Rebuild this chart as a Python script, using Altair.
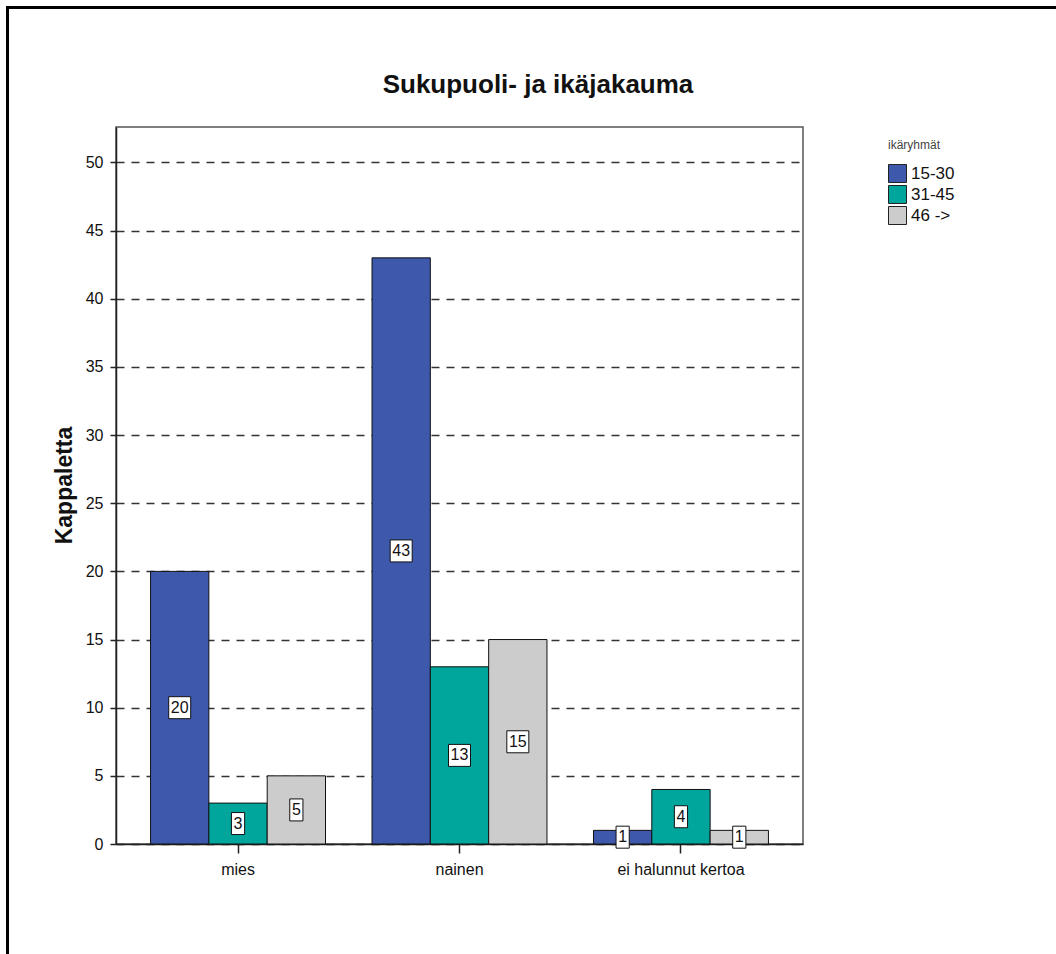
import altair as alt
import pandas as pd

# ---- data ----
categories = ["mies", "nainen", "ei halunnut kertoa"]
age_groups = ["15-30", "31-45", "46 ->"]
counts_15_30 = [20, 43, 1]
counts_31_45 = [3, 13, 4]
counts_46_plus = [5, 15, 1]
colors = ["#3E58AC", "#00A69C", "#CCCCCC"]
y_ticks = [0, 5, 10, 15, 20, 25, 30, 35, 40, 45, 50]
chart_title = "Sukupuoli- ja ikäjakauma"

rows = []
for i, c in enumerate(categories):
    for g, vals in zip(age_groups, [counts_15_30, counts_31_45, counts_46_plus]):
        rows.append({"sukupuoli": c, "ikaryhma": g, "kpl": vals[i]})
df = pd.DataFrame(rows)

FONT = "Liberation Sans"

x_scale = alt.Scale(paddingInner=0.21, paddingOuter=0.156)
x_axis = alt.Axis(title=None, labelAngle=0, labelFontSize=16, labelColor="#111",
                  tickSize=9, tickColor="#222", tickWidth=1.5, domain=True,
                  domainColor="#222", domainWidth=1.5, labelPadding=8, grid=False)
y_scale = alt.Scale(domain=[0, 52.6], nice=False, zero=True)
y_axis = alt.Axis(values=y_ticks, title="Kappaletta", titleFontSize=23,
                  titleFontWeight="bold", titleColor="#111", titleAngle=-90,
                  titleX=-52, titleY=358, titleAlign="center", titleBaseline="middle",
                  labelFontSize=16, labelColor="#111", labelPadding=7,
                  tickSize=6, tickColor="#222", tickWidth=1.5,
                  domainColor="#222", domainWidth=1.5,
                  grid=True, gridDash=[8, 7], gridColor="#333", gridWidth=1.5)


def X():
    return alt.X("sukupuoli:N", sort=categories, scale=x_scale, axis=x_axis)


def XO():
    return alt.XOffset("ikaryhma:N", sort=age_groups,
                       scale=alt.Scale(paddingInner=0, paddingOuter=0))


def Y(field):
    return alt.Y(field, scale=y_scale, axis=y_axis)


base = alt.Chart(df)

bars = base.mark_bar(stroke="#111", strokeWidth=1, opacity=1).encode(
    x=X(), xOffset=XO(), y=Y("kpl:Q"),
    color=alt.Color("ikaryhma:N", sort=age_groups,
                    scale=alt.Scale(domain=age_groups, range=colors),
                    legend=alt.Legend(title="ikäryhmät", orient="none",
                                      legendX=772, legendY=13,
                                      titleFontSize=12, titleFontWeight="normal",
                                      titleColor="#444", titlePadding=12,
                                      labelFontSize=17, labelColor="#111",
                                      symbolType="square", symbolSize=324,
                                      symbolStrokeColor="#222", symbolStrokeWidth=1,
                                      symbolOpacity=1, rowPadding=-2, labelOffset=4)),
)

labels_base = base.transform_calculate(
    mid="datum.kpl / 2",
    leveys="datum.kpl >= 10 ? 'kaksi' : 'yksi'",
)

boxes = labels_base.mark_point(filled=True, fill="white", stroke="#111",
                               strokeWidth=1, size=484, opacity=1).encode(
    x=X(), xOffset=XO(), y=Y("mid:Q"),
    shape=alt.Shape("leveys:N",
                    scale=alt.Scale(domain=["yksi", "kaksi"],
                                    range=["M-0.6,-1L0.6,-1L0.6,1L-0.6,1Z",
                                           "M-1,-1L1,-1L1,1L-1,1Z"]),
                    legend=None),
)

texts = labels_base.mark_text(fontSize=16, font=FONT, color="#111",
                              baseline="middle", align="center").encode(
    x=X(), xOffset=XO(), y=Y("mid:Q"), text="kpl:Q",
)

frame_df = pd.DataFrame({"otsikko": [chart_title]})
top_line = alt.Chart(frame_df).mark_rule(color="black", strokeWidth=3).encode(
    x=alt.value(-110), x2=alt.value(940), y=alt.value(-119.5))
left_line = alt.Chart(frame_df).mark_rule(color="black", strokeWidth=3).encode(
    x=alt.value(-108.5), y=alt.value(-121), y2=alt.value(827))
title_text = alt.Chart(frame_df).mark_text(
    fontSize=26, font=FONT, fontWeight="bold", color="#111",
    align="center", baseline="alphabetic").encode(
    text="otsikko:N", x=alt.value(422), y=alt.value(-34))

chart = alt.layer(bars, boxes, texts, top_line, left_line, title_text).properties(
    width=687, height=717,
    autosize=alt.AutoSizeParams(type="none"),
    padding={"left": 116, "top": 127, "right": 253, "bottom": 110},
    background="white",
).configure(font=FONT).configure_view(stroke="#555", strokeWidth=1.5)

chart.save("out.html", embed_options={"renderer": "svg", "actions": False})
